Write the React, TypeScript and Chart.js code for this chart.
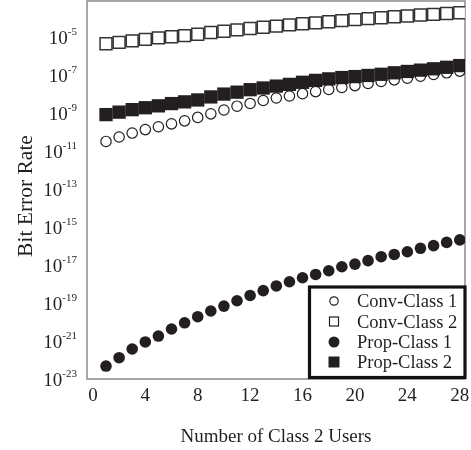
import React, { useEffect, useRef } from 'react';
import { Chart, registerables } from 'chart.js';

Chart.register(...registerables);

const xValues = [1, 2, 3, 4, 5, 6, 7, 8, 9, 10, 11, 12, 13, 14, 15, 16, 17, 18, 19, 20, 21, 22, 23, 24, 25, 26, 27, 28];

const convClass1 = [3.2e-11, 5.5e-11, 8.9e-11, 1.35e-10, 1.9e-10, 2.7e-10, 3.9e-10, 5.9e-10, 9.1e-10, 1.45e-9, 2.3e-9, 3.2e-9, 4.6e-9, 6.2e-9, 7.9e-9, 1.05e-8, 1.35e-8, 1.74e-8, 2.24e-8, 2.8e-8, 3.6e-8, 4.6e-8, 5.6e-8, 6.9e-8, 8.7e-8, 1.07e-7, 1.32e-7, 1.62e-7];
const convClass2 = [4.47e-6, 5.25e-6, 6.31e-6, 7.59e-6, 9.12e-6, 1.05e-5, 1.2e-5, 1.41e-5, 1.74e-5, 2.04e-5, 2.4e-5, 2.82e-5, 3.31e-5, 3.8e-5, 4.37e-5, 5.01e-5, 5.62e-5, 6.46e-5, 7.41e-5, 8.32e-5, 9.33e-5, 1.05e-4, 1.17e-4, 1.29e-4, 1.45e-4, 1.58e-4, 1.74e-4, 1.91e-4];
const propClass1 = [4.8e-23, 1.32e-22, 3.8e-22, 8.9e-22, 1.82e-21, 4.3e-21, 9.1e-21, 1.9e-20, 3.8e-20, 6.9e-20, 1.32e-19, 2.5e-19, 4.5e-19, 7.9e-19, 1.32e-18, 2.14e-18, 3.2e-18, 5.0e-18, 8.1e-18, 1.12e-17, 1.7e-17, 2.75e-17, 3.6e-17, 5.0e-17, 7.6e-17, 1.05e-16, 1.55e-16, 2.1e-16];
const propClass2 = [8.3e-10, 1.12e-9, 1.51e-9, 1.91e-9, 2.4e-9, 3.16e-9, 3.89e-9, 4.9e-9, 7.08e-9, 1.0e-8, 1.26e-8, 1.7e-8, 2.09e-8, 2.63e-8, 3.24e-8, 4.17e-8, 5.25e-8, 6.31e-8, 7.41e-8, 8.32e-8, 9.55e-8, 1.1e-7, 1.32e-7, 1.55e-7, 1.82e-7, 2.14e-7, 2.57e-7, 3.16e-7];

const seriesLabels = ['Conv-Class 1', 'Conv-Class 2', 'Prop-Class 1', 'Prop-Class 2'];
const xTickValues = [0, 4, 8, 12, 16, 20, 24, 28];
const yTickExponents = [-5, -7, -9, -11, -13, -15, -17, -19, -21, -23];
const xTitle = 'Number of Class 2 Users';
const yTitle = 'Bit Error Rate';

const FONT = '"Liberation Serif", "Times New Roman", serif';
const INK = '#231f20';

type Marker = { kind: 'circle' | 'square'; filled: boolean };
const markers: Marker[] = [
  { kind: 'circle', filled: false },
  { kind: 'square', filled: false },
  { kind: 'circle', filled: true },
  { kind: 'square', filled: true },
];

const decorPlugin = {
  id: 'decor',
  beforeDatasetsDraw(chart: any) {
    const { ctx, chartArea: a } = chart;
    ctx.save();
    ctx.strokeStyle = '#8a8a8a';
    ctx.lineWidth = 1.5;
    ctx.strokeRect(a.left, a.top, a.right - a.left, a.bottom - a.top);
    ctx.restore();
  },
  afterDraw(chart: any) {
    const { ctx, chartArea: a } = chart;
    const xs = chart.scales.x;
    const ys = chart.scales.y;
    ctx.save();
    ctx.fillStyle = INK;
    // y tick labels 10^e
    const rightEdge = 77;
    for (const e of yTickExponents) {
      const y = ys.getPixelForValue(Math.pow(10, e));
      const expText = '-' + Math.abs(e);
      ctx.font = `11px ${FONT}`;
      const ew = ctx.measureText(expText).width;
      ctx.textAlign = 'left';
      ctx.textBaseline = 'alphabetic';
      ctx.fillText(expText, rightEdge - ew, y - 2);
      ctx.font = `19px ${FONT}`;
      ctx.textAlign = 'right';
      ctx.fillText('10', rightEdge - ew, y + 6.5);
    }
    // x tick labels
    ctx.font = `19px ${FONT}`;
    ctx.textAlign = 'center';
    ctx.textBaseline = 'alphabetic';
    for (const v of xTickValues) {
      const x = xs.getPixelForValue(v);
      ctx.fillText(String(v), x, 400.5);
    }
    // x title
    ctx.font = `19px ${FONT}`;
    ctx.fillText(xTitle, (a.left + a.right) / 2, 441.5);
    // y title
    ctx.save();
    ctx.translate(32, 196);
    ctx.rotate(-Math.PI / 2);
    ctx.font = `21.5px ${FONT}`;
    ctx.textAlign = 'center';
    ctx.fillText(yTitle, 0, 0);
    ctx.restore();

    // legend
    const lx = 309.5, ly = 287, lw = 465 - 309.5, lh = 377.5 - 287;
    ctx.fillStyle = '#ffffff';
    ctx.fillRect(lx, ly, lw, lh);
    ctx.strokeStyle = '#111';
    ctx.lineWidth = 3.2;
    ctx.strokeRect(lx, ly, lw, lh);
    const rowY = [301, 321.5, 342, 362];
    const mx = 334;
    seriesLabels.forEach((label, i) => {
      const y = rowY[i];
      const m = markers[i];
      ctx.fillStyle = INK;
      ctx.strokeStyle = INK;
      ctx.lineWidth = 1.2;
      if (m.kind === 'circle') {
        const r = m.filled ? 5.5 : 4.2;
        ctx.beginPath();
        ctx.arc(mx, y, r, 0, Math.PI * 2);
        if (m.filled) ctx.fill(); else ctx.stroke();
      } else {
        const s = m.filled ? 11 : 9;
        if (m.filled) ctx.fillRect(mx - s / 2, y - s / 2, s, s);
        else ctx.strokeRect(mx - s / 2, y - s / 2, s, s);
      }
      ctx.font = `18.5px ${FONT}`;
      ctx.textAlign = 'left';
      ctx.textBaseline = 'alphabetic';
      ctx.fillStyle = INK;
      ctx.fillText(label, 357, y + 6);
    });
    ctx.restore();
  },
};

export default function App() {
  const canvasRef = useRef<HTMLCanvasElement | null>(null);

  useEffect(() => {
    document.body.style.margin = '0';
    const canvas = canvasRef.current;
    if (!canvas) return;
    const toPts = (arr: number[]) => arr.map((v, i) => ({ x: xValues[i], y: v }));
    const chart = new Chart(canvas, {
      type: 'scatter',
      data: {
        datasets: [
          {
            label: seriesLabels[0],
            data: toPts(convClass1),
            pointStyle: 'circle',
            pointRadius: 5.2,
            backgroundColor: '#ffffff',
            borderColor: INK,
            pointBorderWidth: 1.2,
            order: 4,
          },
          {
            label: seriesLabels[1],
            data: toPts(convClass2),
            pointStyle: 'rect',
            pointRadius: 8.4,
            backgroundColor: '#ffffff',
            borderColor: '#333333',
            pointBorderWidth: 1.5,
            order: 3,
          },
          {
            label: seriesLabels[2],
            data: toPts(propClass1),
            pointStyle: 'circle',
            pointRadius: 5.8,
            backgroundColor: INK,
            borderColor: INK,
            pointBorderWidth: 0,
            order: 2,
          },
          {
            label: seriesLabels[3],
            data: toPts(propClass2),
            pointStyle: 'rect',
            pointRadius: 9.4,
            backgroundColor: INK,
            borderColor: INK,
            pointBorderWidth: 0,
            order: 1,
          },
        ],
      } as any,
      options: {
        responsive: false,
        devicePixelRatio: 1,
        animation: false,
        layout: { autoPadding: false, padding: { left: 87, top: 1, right: 6, bottom: 71 } },
        plugins: { legend: { display: false }, tooltip: { enabled: false } },
        scales: {
          x: { type: 'linear', min: -0.45, max: 28.4, display: false },
          y: { type: 'logarithmic', min: 1e-23, max: Math.pow(10, -3.1), display: false },
        },
      } as any,
      plugins: [decorPlugin],
    });
    return () => chart.destroy();
  }, []);

  return (
    <div style={{ width: 471, height: 450 }}>
      <canvas ref={canvasRef} width={471} height={450} style={{ display: 'block' }} />
    </div>
  );
}
